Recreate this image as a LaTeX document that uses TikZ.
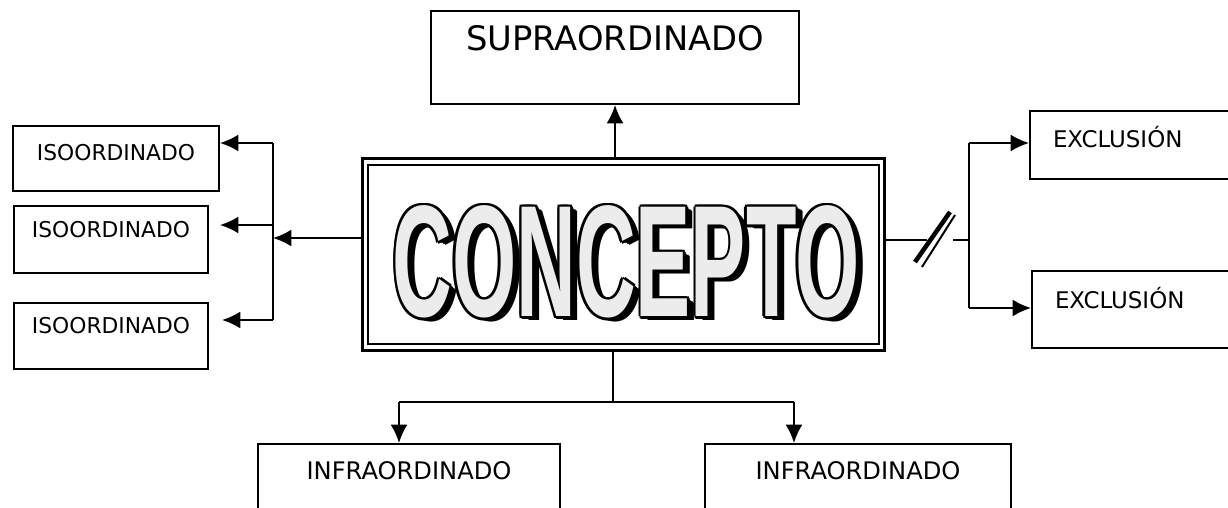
\documentclass[tikz,border=0pt]{standalone}
\usepackage{fontspec}
\setmainfont{DejaVu Sans}
\newfontfamily\conceptfont{Liberation Sans}
\usepackage{tikz}
\usetikzlibrary{arrows.meta}

\newcommand{\conceptlabel}{\scalebox{0.52}[1]{\conceptfont\bfseries\fontsize{113}{113}\selectfont CONCEPTO}}

\begin{document}
\begin{tikzpicture}[x=0.025cm,y=-0.025cm,
                every path/.style={line width=1.4pt},
                arr/.style={-{Latex[length=13pt,width=12pt]}},
                caja/.style={draw,rectangle,inner sep=0pt,anchor=north west}]
  \useasboundingbox (0,0) rectangle (1228,507);

  % caja central
  \node[draw,line width=2.2pt,minimum width=13.05cm,minimum height=4.8cm,anchor=north west] (concepto) at (361,157) {};
  \draw[line width=1.4pt] ([shift={(7,8)}]concepto.north west) rectangle ([shift={(-7,-8)}]concepto.south east);
  \foreach \k in {1,...,7}
    \node[text=black] (sombra\k) at (626+\k,262+0.5*\k) {\conceptlabel};
  \foreach \dx/\dy [count=\i] in {-2.5/0,2.5/0,0/-2.5,0/2.5,-1.8/-1.8,1.8/-1.8,-1.8/1.8,1.8/1.8}
    \node[text=black] (borde\i) at (626+\dx,262+\dy) {\conceptlabel};
  \node[text=gray!15] (palabra) at (626,262) {\conceptlabel};

  % cajas
  \node[caja,minimum width=9.2cm,text height=1.0cm,text depth=1.325cm,font=\fontsize{24}{28}\selectfont]  (supra) at (430,10)  {SUPRAORDINADO};
  \node[caja,minimum width=5.15cm,text height=0.875cm,text depth=0.75cm,font=\fontsize{15.5}{18}\selectfont] (iso1) at (12,125)  {ISOORDINADO};
  \node[caja,minimum width=4.85cm,text height=0.8cm,text depth=0.875cm,font=\fontsize{15.5}{18}\selectfont]  (iso2) at (13,205)  {ISOORDINADO};
  \node[caja,minimum width=4.85cm,text height=0.775cm,text depth=0.875cm,font=\fontsize{15.5}{18}\selectfont] (iso3) at (13,302)  {ISOORDINADO};
  \node[caja,text width=4.25cm,inner xsep=0.575cm,align=left,text height=0.925cm,text depth=0.775cm,font=\fontsize{16.3}{19}\selectfont] (excl1) at (1029,110) {EXCLUSIÓN};
  \node[caja,text width=4.25cm,inner xsep=0.575cm,align=left,text height=0.925cm,text depth=1.0cm,font=\fontsize{16.3}{19}\selectfont]   (excl2) at (1031,270) {EXCLUSIÓN};
  \node[caja,minimum width=7.55cm,text height=0.875cm,text depth=1.55cm,font=\fontsize{17.2}{20}\selectfont] (infra1) at (257,443) {INFRAORDINADO};
  \node[caja,minimum width=7.65cm,text height=0.875cm,text depth=1.55cm,font=\fontsize{17.2}{20}\selectfont] (infra2) at (704,443) {INFRAORDINADO};

  % puntos de las flechas
  \coordinate (lj)  at (273,238);
  \coordinate (lv1) at (273,143);
  \coordinate (lv2) at (273,225);
  \coordinate (lv3) at (273,320);
  \coordinate (la2) at (220,225);
  \coordinate (la3) at (222,320);
  \coordinate (bj)  at (613,402);
  \coordinate (bl)  at (399,402);
  \coordinate (br)  at (794,402);
  \coordinate (rs1) at (927,240);
  \coordinate (rs2) at (953,240);
  \coordinate (rv1) at (969,143);
  \coordinate (rv2) at (969,308);

  % arriba
  \draw[arr] (concepto.north -| supra.south) -- (supra.south);
  % izquierda
  \draw[arr] (concepto.west |- lj) -- (lj);
  \draw (lv1) -- (lv3);
  \draw[arr] (lv1) -- (iso1.east |- lv1);
  \draw[arr] (lv2) -- (la2);
  \draw[arr] (lv3) -- (la3);
  % abajo
  \draw (concepto.south -| bj) -- (bj);
  \draw (bl) -- (br);
  \draw[arr] (bl) -- (bl |- infra1.north);
  \draw[arr] (br) -- (br |- infra2.north);
  % derecha, con la barra
  \draw (concepto.east |- rs1) -- (rs1);
  \draw (rs2) -- (rv1 |- rs2);
  \draw (rv1) -- (rv2);
  \draw[arr] (rv1) -- (excl1.west |- rv1);
  \draw[arr] (rv2) -- (excl2.west |- rv2);
  \draw[line width=3.2pt] (915,262) -- (950,212);
  \draw[line width=1.4pt] (922,267) -- (955,215);
\end{tikzpicture}
\end{document}
